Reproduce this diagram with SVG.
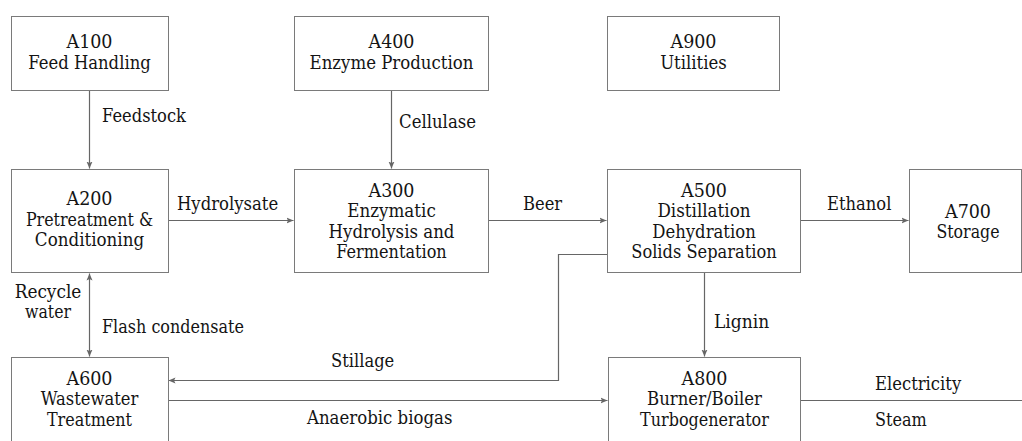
<svg xmlns="http://www.w3.org/2000/svg" width="1022" height="441" viewBox="0 0 1022 441">
<defs>
<style>
.box{fill:#fff;stroke:#7a7a7a;stroke-width:1}
text{font-family:'DejaVu Serif',serif;font-size:18.5px;fill:#141414}
.c{text-anchor:middle}
.ln{fill:none;stroke:#666;stroke-width:1.2}
</style>
<marker id="ah" markerUnits="userSpaceOnUse" markerWidth="10" markerHeight="8" refX="7" refY="4" orient="auto-start-reverse">
<path d="M0,1 L7,4 L0,7 L1.5,4 Z" fill="#666"/>
</marker>
</defs>
<rect width="1022" height="441" fill="#fff"/>
<g id="connectors">
<line class="ln" x1="89.5" y1="90" x2="89.5" y2="168.5" marker-end="url(#ah)"/>
<line class="ln" x1="391.5" y1="90" x2="391.5" y2="168.5" marker-end="url(#ah)"/>
<line class="ln" x1="168" y1="220.5" x2="293.5" y2="220.5" marker-end="url(#ah)"/>
<line class="ln" x1="489" y1="220.5" x2="606.5" y2="220.5" marker-end="url(#ah)"/>
<line class="ln" x1="801" y1="220.5" x2="908.5" y2="220.5" marker-end="url(#ah)"/>
<polyline class="ln" points="607,254.5 558.5,254.5 558.5,380.5 168.5,380.5" marker-end="url(#ah)"/>
<line class="ln" x1="89.5" y1="273.5" x2="89.5" y2="356.5" marker-start="url(#ah)" marker-end="url(#ah)"/>
<line class="ln" x1="704.5" y1="273" x2="704.5" y2="356.5" marker-end="url(#ah)"/>
<line class="ln" x1="168" y1="400.5" x2="607.5" y2="400.5" marker-end="url(#ah)"/>
<line class="ln" x1="801" y1="400.5" x2="1022" y2="400.5"/>
<text x="102" y="122" textLength="83.9" lengthAdjust="spacingAndGlyphs">Feedstock</text>
<text x="399" y="128" textLength="77" lengthAdjust="spacingAndGlyphs">Cellulase</text>
<text x="177" y="210" textLength="101.2" lengthAdjust="spacingAndGlyphs">Hydrolysate</text>
<text x="523" y="210" textLength="39.1" lengthAdjust="spacingAndGlyphs">Beer</text>
<text x="827" y="210" textLength="64.4" lengthAdjust="spacingAndGlyphs">Ethanol</text>
<text class="c" x="48" y="298" textLength="66.7" lengthAdjust="spacingAndGlyphs">Recycle</text>
<text class="c" x="48" y="317.5" textLength="46" lengthAdjust="spacingAndGlyphs">water</text>
<text x="102" y="333" textLength="142" lengthAdjust="spacingAndGlyphs">Flash condensate</text>
<text x="331" y="367" textLength="63.3" lengthAdjust="spacingAndGlyphs">Stillage</text>
<text x="307" y="424" textLength="145.4" lengthAdjust="spacingAndGlyphs">Anaerobic biogas</text>
<text x="714" y="328" textLength="55.2" lengthAdjust="spacingAndGlyphs">Lignin</text>
<text x="875" y="390" textLength="86.2" lengthAdjust="spacingAndGlyphs">Electricity</text>
<text x="875" y="426" textLength="51.8" lengthAdjust="spacingAndGlyphs">Steam</text>
</g>
<g id="A100">
<rect class="box" x="11.5" y="16.5" width="157" height="74"/>
<text class="c" x="89.5" y="48" textLength="46" lengthAdjust="spacingAndGlyphs">A100</text>
<text class="c" x="89.5" y="68.5" textLength="122.5" lengthAdjust="spacingAndGlyphs">Feed Handling</text>
</g>
<g id="A400">
<rect class="box" x="294.5" y="16.5" width="194" height="74"/>
<text class="c" x="391.5" y="48" textLength="46" lengthAdjust="spacingAndGlyphs">A400</text>
<text class="c" x="391.5" y="68.5" textLength="163.9" lengthAdjust="spacingAndGlyphs">Enzyme Production</text>
</g>
<g id="A900">
<rect class="box" x="607.5" y="16.5" width="172" height="74"/>
<text class="c" x="693.5" y="48" textLength="46" lengthAdjust="spacingAndGlyphs">A900</text>
<text class="c" x="693.5" y="68.5" textLength="66.7" lengthAdjust="spacingAndGlyphs">Utilities</text>
</g>
<g id="A200">
<rect class="box" x="11.5" y="169.5" width="157" height="103"/>
<text class="c" x="89.5" y="205" textLength="46" lengthAdjust="spacingAndGlyphs">A200</text>
<text class="c" x="89.5" y="225.5" textLength="127.1" lengthAdjust="spacingAndGlyphs">Pretreatment &amp;</text>
<text class="c" x="89.5" y="246" textLength="109.3" lengthAdjust="spacingAndGlyphs">Conditioning</text>
</g>
<g id="A300">
<rect class="box" x="294.5" y="169.5" width="194" height="103"/>
<text class="c" x="391.5" y="196.5" textLength="46" lengthAdjust="spacingAndGlyphs">A300</text>
<text class="c" x="391.5" y="217" textLength="88.5" lengthAdjust="spacingAndGlyphs">Enzymatic</text>
<text class="c" x="391.5" y="237.5" textLength="125.9" lengthAdjust="spacingAndGlyphs">Hydrolysis and</text>
<text class="c" x="391.5" y="258" textLength="110.4" lengthAdjust="spacingAndGlyphs">Fermentation</text>
</g>
<g id="A500">
<rect class="box" x="607.5" y="169.5" width="193" height="103"/>
<text class="c" x="704" y="196.5" textLength="46" lengthAdjust="spacingAndGlyphs">A500</text>
<text class="c" x="704" y="217" textLength="93.2" lengthAdjust="spacingAndGlyphs">Distillation</text>
<text class="c" x="704" y="237.5" textLength="103.5" lengthAdjust="spacingAndGlyphs">Dehydration</text>
<text class="c" x="704" y="258" textLength="145.5" lengthAdjust="spacingAndGlyphs">Solids Separation</text>
</g>
<g id="A700">
<rect class="box" x="909.5" y="169.5" width="112" height="103"/>
<text class="c" x="968" y="217.5" textLength="46" lengthAdjust="spacingAndGlyphs">A700</text>
<text class="c" x="968" y="238" textLength="63.2" lengthAdjust="spacingAndGlyphs">Storage</text>
</g>
<g id="A600">
<rect class="box" x="11.5" y="357.5" width="157" height="100"/>
<text class="c" x="89.5" y="384.5" textLength="46" lengthAdjust="spacingAndGlyphs">A600</text>
<text class="c" x="89.5" y="405" textLength="97.7" lengthAdjust="spacingAndGlyphs">Wastewater</text>
<text class="c" x="89.5" y="425.5" textLength="85.1" lengthAdjust="spacingAndGlyphs">Treatment</text>
</g>
<g id="A800">
<rect class="box" x="608.5" y="357.5" width="192" height="100"/>
<text class="c" x="704.5" y="384.5" textLength="46" lengthAdjust="spacingAndGlyphs">A800</text>
<text class="c" x="704.5" y="405" textLength="115" lengthAdjust="spacingAndGlyphs">Burner/Boiler</text>
<text class="c" x="704.5" y="425.5" textLength="128.8" lengthAdjust="spacingAndGlyphs">Turbogenerator</text>
</g>
</svg>
